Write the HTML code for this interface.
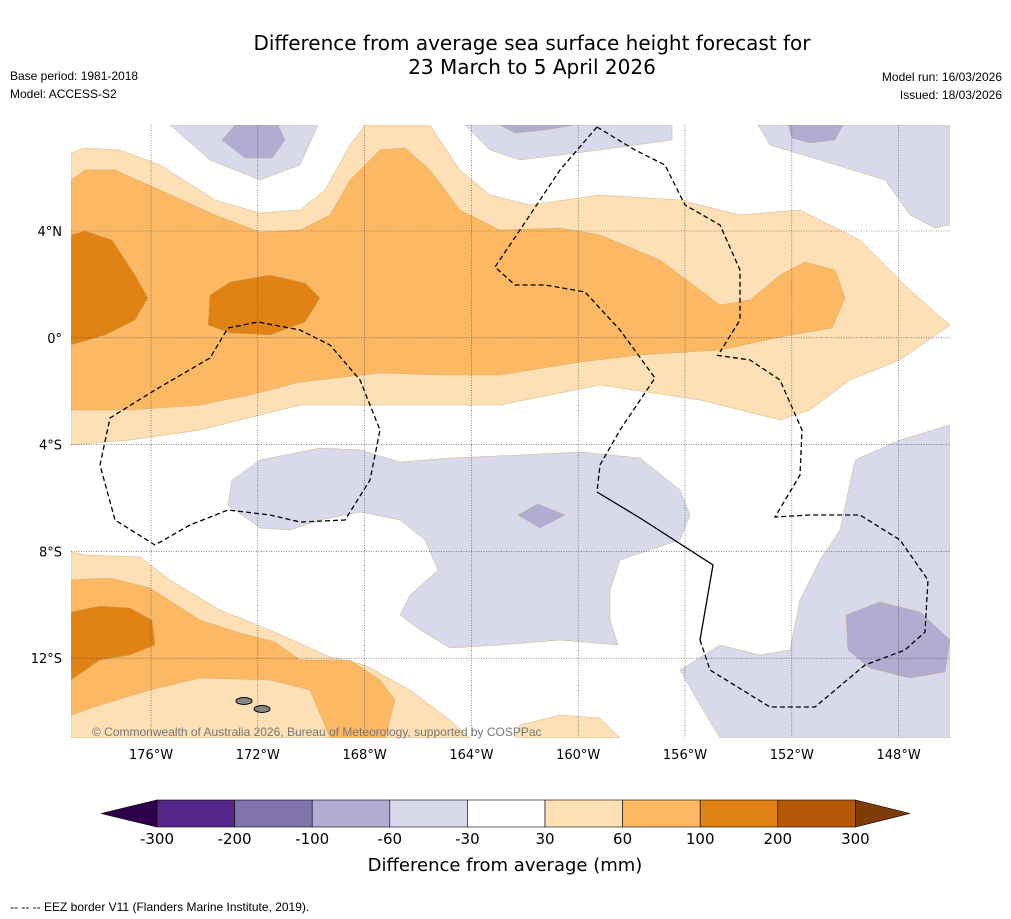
<!DOCTYPE html>
<html><head><meta charset="utf-8"><style>
body{margin:0;background:#fff;font-family:"Liberation Sans",sans-serif;}
svg{display:block}
.dv{font-family:"DejaVu Sans","Liberation Sans",sans-serif;}
</style></head><body>
<svg width="1011" height="919" viewBox="0 0 1011 919">
<text class="dv" x="532" y="50" font-size="20" text-anchor="middle">Difference from average sea surface height forecast for</text>
<text class="dv" x="532" y="74" font-size="20" text-anchor="middle">23 March to 5 April 2026</text>
<text x="10" y="80" font-size="12">Base period: 1981-2018</text>
<text x="10" y="98" font-size="12">Model: ACCESS-S2</text>
<text x="1002" y="81" font-size="12" text-anchor="end">Model run: 16/03/2026</text>
<text x="1002" y="99" font-size="12" text-anchor="end">Issued: 18/03/2026</text>
<defs><clipPath id="mc"><rect x="71" y="125" width="879" height="613"/></clipPath></defs>
<g clip-path="url(#mc)" id="map"></g>
<g id="grid"></g>
<text x="92" y="736" font-size="12" fill="#777">© Commonwealth of Australia 2026, Bureau of Meteorology, supported by COSPPac</text>
<g id="cbar"></g>
<text class="dv" x="505" y="871" font-size="18" text-anchor="middle">Difference from average (mm)</text>
<text x="10" y="911" font-size="12">-- -- -- EEZ border V11 (Flanders Marine Institute, 2019).</text>
</svg>
<script>
const NS="http://www.w3.org/2000/svg";
const lonTicks=["176°W","172°W","168°W","164°W","160°W","156°W","152°W","148°W"];
const latTicks=["4°N","0°","4°S","8°S","12°S"];
const cbLevels=[-300,-200,-100,-60,-30,30,60,100,200,300];
const cbColors=["#542788","#8073ac","#b2abd2","#d8daeb","#ffffff","#fee0b6","#fdb863","#e08214","#b35806"];
const lonX=i=>151+i*106.8, latY=i=>231+i*106.8;
function mk(t,a,p){const e=document.createElementNS(NS,t);for(const k in a)e.setAttribute(k,a[k]);p.appendChild(e);return e;}
const map=document.getElementById('map');
const polys=[
["#fee0b6","71,153 85,148 120,150 160,165 215,200 260,213 300,210 325,190 350,145 365,125 430,125 460,170 490,195 530,205 600,195 680,200 740,215 800,210 860,240 910,290 950,325 900,360 850,380 810,410 780,420 700,400 600,385 500,405 400,405 300,405 200,430 130,440 71,445"],
["#fdb863","71,180 85,170 115,170 160,190 215,215 260,232 300,230 330,215 350,180 380,150 405,148 430,170 460,210 500,230 560,228 600,235 660,260 700,290 720,305 750,300 780,275 805,262 835,270 845,298 832,328 790,335 720,350 640,355 580,362 500,375 440,375 380,373 300,382 250,395 200,405 130,410 71,410"],
["#e08214","71,235 85,231 112,240 135,275 148,298 135,320 105,335 71,345"],
["#e08214","210,295 230,282 270,275 305,283 320,298 305,322 270,335 230,333 208,325"],
["#fee0b6","71,552 85,555 140,557 170,580 220,610 270,630 330,657 365,665 410,690 450,720 470,738 71,738"],
["#fdb863","71,580 110,578 150,588 200,620 240,633 275,642 300,660 350,660 380,680 395,700 385,738 330,738 310,690 270,680 200,678 150,690 100,705 71,715"],
["#e08214","71,612 100,606 130,608 152,620 155,645 130,655 100,660 71,680"],
["#fee0b6","520,725 560,715 600,718 620,738 515,738"],
["#d8daeb","170,125 318,125 300,165 260,180 210,160"],
["#d8daeb","465,125 672,125 672,140 600,150 520,160 490,150"],
["#d8daeb","758,125 950,125 950,225 935,228 910,215 885,180 820,160 770,145"],
["#d8daeb","232,480 260,460 320,448 360,450 400,462 450,458 520,455 580,452 640,458 680,490 690,515 680,540 620,560 610,590 610,620 618,645 560,640 500,645 450,648 420,630 400,615 410,595 438,570 425,540 400,520 360,512 320,520 290,530 260,528 228,505"],
["#d8daeb","680,670 720,645 760,655 790,650 800,600 820,560 840,530 855,460 900,440 950,425 950,738 720,738 700,705"],
["#b2abd2","222,140 235,125 278,125 285,140 272,158 245,158"],
["#b2abd2","500,125 575,125 545,130 515,133"],
["#b2abd2","788,125 843,125 835,140 810,143 792,138"],
["#b2abd2","518,515 538,504 565,515 540,528"],
["#b2abd2","846,615 880,602 920,612 950,640 945,672 910,678 870,668 848,650"]];
polys.forEach(p=>{const e=mk('polygon',{points:p[1],fill:p[0],stroke:"#c9a36a","stroke-width":0.4},map);

});
const eez=["228,328 258,322 300,330 330,345 360,380 380,430 370,480 345,520 300,522 270,515 228,510 190,525 155,545 115,520 100,465 110,418 155,390 210,358 228,328",
"597,127 635,150 665,165 685,205 720,225 740,270 740,320 720,352",
"597,127 560,170 530,215 495,267 515,285 545,285 585,292 620,330 655,378 620,430 600,465 597,492",
"700,640 710,670 770,707 815,707 865,665 905,650 925,632 928,580 900,540 860,515 810,515 775,517 800,475 802,430 780,380 750,360 715,355"];
eez.forEach(p=>{const e=mk('polyline',{points:p,fill:"none",stroke:"#000","stroke-width":1.3,"stroke-dasharray":"5,3"},map);

});
const sl=mk('polyline',{points:"597,492 640,518 713,565 700,640",fill:"none",stroke:"#000","stroke-width":1.3},map);


[[244,701,"#888"],[262,709,"#888"]].forEach(d=>{const e=mk('ellipse',{cx:d[0],cy:d[1],rx:8,ry:3.5,fill:d[2],stroke:"#000","stroke-width":1},map);

});
const grid=document.getElementById('grid');
lonTicks.forEach((t,i)=>{const x=lonX(i);
const l=mk('line',{x1:x,x2:x,y1:125,y2:738,stroke:"#444","stroke-width":0.6,"stroke-dasharray":"1,1.5"},grid);


const tx=mk('text',{x:x,y:759,"font-size":13,"text-anchor":"middle","class":"dv"},grid);tx.textContent=t;

});
latTicks.forEach((t,i)=>{const y=latY(i);
const l=mk('line',{x1:71,x2:950,y1:y,y2:y,stroke:"#444","stroke-width":0.6,"stroke-dasharray":"1,1.5"},grid);


const tx=mk('text',{x:62,y:y+5,"font-size":13,"text-anchor":"end","class":"dv"},grid);tx.textContent=t;

});
const cb=document.getElementById('cbar');
const x0=157,w=77.6,y0=800,h=27,n=cbColors.length;
const tl=mk('polygon',{points:`${x0},${y0} ${x0},${y0+h} 101,${y0+h/2}`,fill:"#2d004b",stroke:"#000","stroke-width":0.6},cb);


cbColors.forEach((c,i)=>{const r=mk('rect',{x:x0+i*w,y:y0,width:w,height:h,fill:c,stroke:"#000","stroke-width":0.6},cb);

});
const xe=x0+n*w;
const tr=mk('polygon',{points:`${xe},${y0} ${xe},${y0+h} 910,${y0+h/2}`,fill:"#7f3b08",stroke:"#000","stroke-width":0.6},cb);


cbLevels.forEach((v,i)=>{const t=mk('text',{x:x0+i*w,y:844,"font-size":15,"text-anchor":"middle","class":"dv"},cb);t.textContent=v;

});
</script>
</body></html>
